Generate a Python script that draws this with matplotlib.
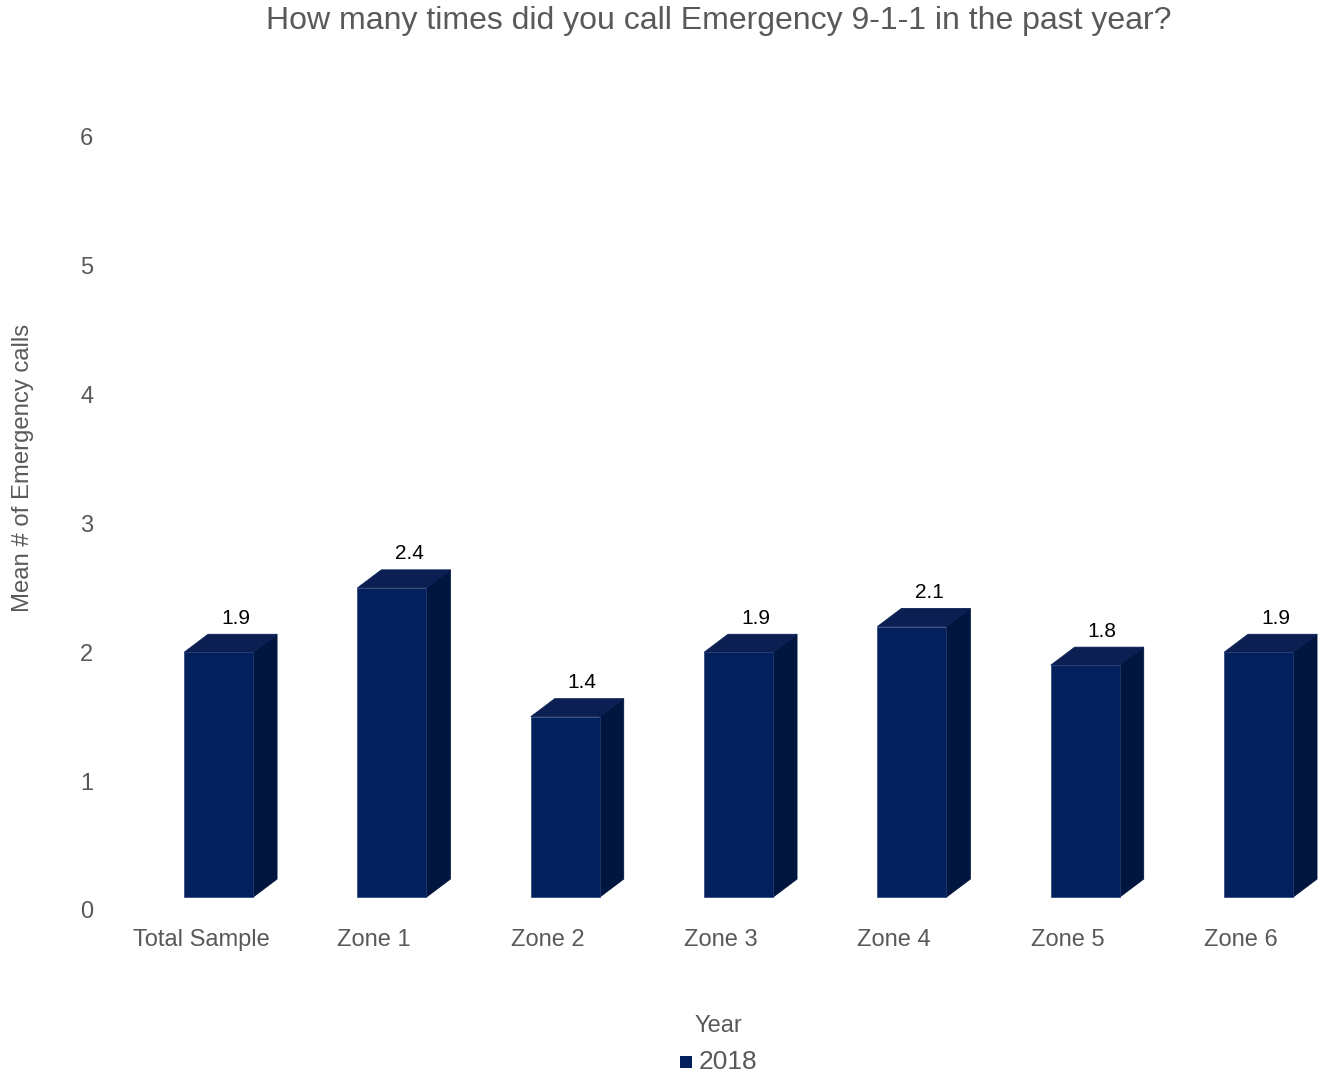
import matplotlib
matplotlib.use("Agg")
import matplotlib.pyplot as plt
from matplotlib.patches import Polygon, Rectangle

plt.rcParams['font.family'] = ['Liberation Sans', 'DejaVu Sans']

categories = ["Total Sample", "Zone 1", "Zone 2", "Zone 3", "Zone 4", "Zone 5", "Zone 6"]
values = [1.9, 2.4, 1.4, 1.9, 2.1, 1.8, 1.9]
labels = ["1.9", "2.4", "1.4", "1.9", "2.1", "1.8", "1.9"]
series_name = "2018"
yticks = [0, 1, 2, 3, 4, 5, 6]

FRONT = '#02205c'
TOP = '#0b1f52'
SIDE = '#01163f'
GRAY = '#595959'

fig = plt.figure(figsize=(13.26, 10.76), dpi=100)
ax = fig.add_axes([0.0862, 0.1543, 0.915, 0.7184])
ax.set_xlim(-0.5, len(categories) - 0.5)
ax.set_ylim(0, 6)

x_off = -0.097
w = 0.398
dx = 0.138
dy = 0.14
base = 0.1

for i, (v, lab) in enumerate(zip(values, labels)):
    l = i + x_off
    r = l + w
    b = base
    t = base + v
    ax.add_patch(Polygon([(r, b), (r + dx, b + dy), (r + dx, t + dy), (r, t)], closed=True,
                         fc=SIDE, ec=SIDE, lw=0.6))
    ax.add_patch(Polygon([(l, t), (r, t), (r + dx, t + dy), (l + dx, t + dy)], closed=True,
                         fc=TOP, ec=TOP, lw=0.6))
    ax.add_patch(Polygon([(l, b), (r, b), (r, t), (l, t)], closed=True, fc=FRONT,
                         ec='#2a3f75', lw=0.5))
    ax.text(i + 0.2, t + dy + 0.05, lab, ha='center', va='bottom', fontsize=15, color='black')

ax.set_xticks(range(len(categories)))
ax.set_xticklabels(categories, fontsize=17, color=GRAY)
ax.set_yticks(yticks)
ax.set_yticklabels([str(t) for t in yticks], fontsize=17, color=GRAY)
ax.tick_params(axis='both', length=0)
ax.tick_params(axis='y', pad=15)
ax.tick_params(axis='x', pad=14)
for s in ax.spines.values():
    s.set_visible(False)

fig.text(0.0175, 0.565, "Mean # of Emergency calls", rotation=90, ha='center', va='center',
         fontsize=17.2, color=GRAY)
fig.text(0.542, 1 - 21 / 1076, "How many times did you call Emergency 9-1-1 in the past year?",
         ha='center', va='center', fontsize=23, color=GRAY)
fig.text(0.542, 1 - 1026 / 1076, "Year", ha='center', va='center', fontsize=17, color=GRAY)
fig.patches.append(Rectangle((680 / 1326, 1 - 1068 / 1076), 12 / 1326, 12 / 1076,
                             transform=fig.transFigure, fc=FRONT, ec='none'))
fig.text(699 / 1326, 1 - 1062 / 1076, series_name, ha='left', va='center', fontsize=19, color=GRAY)

fig.savefig("out.png", dpi=100)
